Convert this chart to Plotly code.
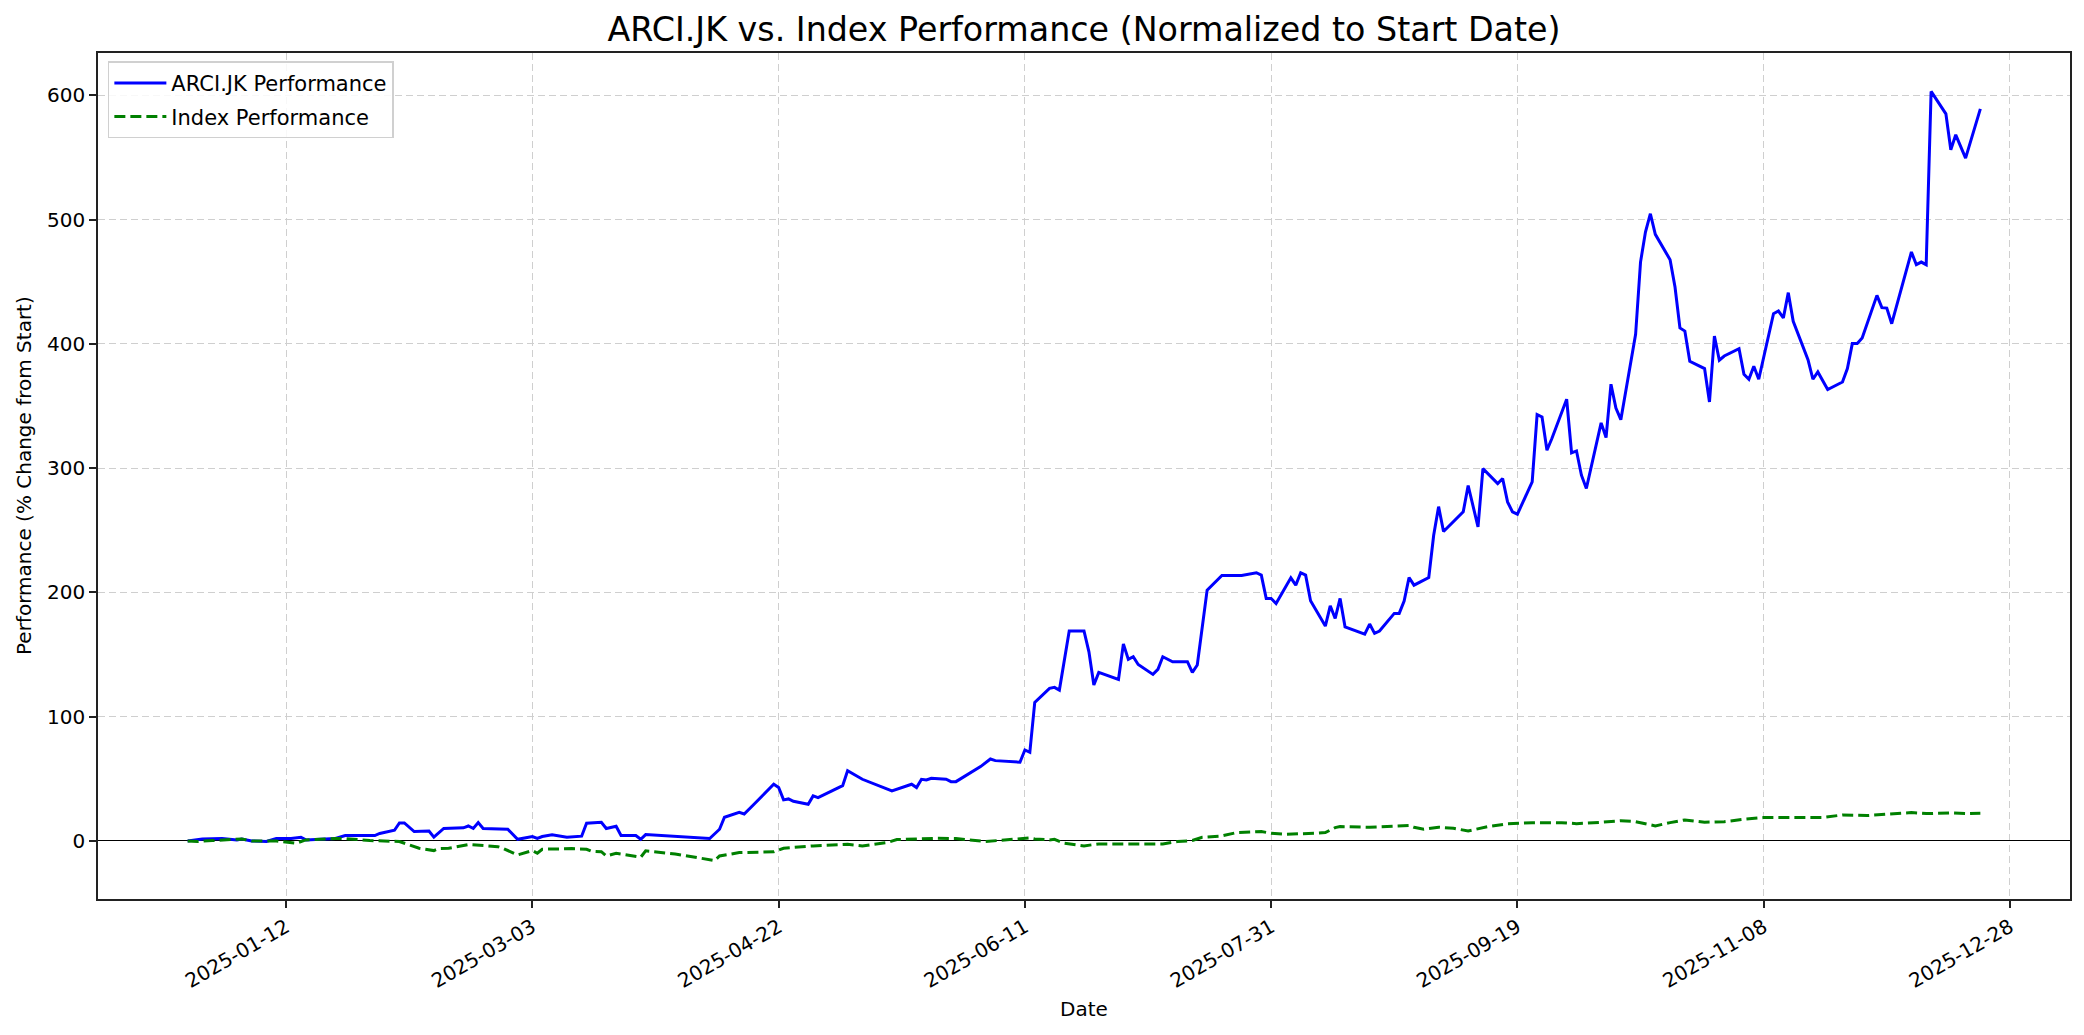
import pandas as pd
import plotly.graph_objects as go

# ---------------- data (day offsets relative to START) ----------------
START = "2025-01-12"

stock_days = [-20, -17, -13, -10, -9, -7, -4, -2, 1, 3, 4, 6, 10, 12, 18, 19, 22, 23, 24, 26,
              29, 30, 32, 36, 37, 38, 39, 40, 45, 47, 50, 51, 52, 54, 57, 60, 61, 64, 65, 67,
              68, 71, 72, 73, 86, 88, 89, 92, 93, 95, 99, 100, 101, 102, 103, 106, 107, 108, 113, 114,
              117, 123, 127, 128, 129, 130, 131, 134, 135, 136, 141, 143, 144, 149, 150, 151, 152, 155, 156, 157,
              159, 162, 163, 164, 165, 169, 170, 171, 172, 173, 176, 177, 178, 180, 183, 184, 185, 187, 190, 194,
              197, 198, 199, 200, 201, 204, 205, 206, 207, 208, 211, 212, 213, 214, 215, 219, 220, 221, 222, 225,
              226, 227, 228, 229, 232, 233, 234, 235, 239, 240, 242, 243, 246, 247, 248, 249, 250, 253, 254, 255,
              256, 257, 260, 261, 262, 263, 264, 267, 268, 269, 270, 271, 274, 275, 276, 277, 278, 281, 282, 283,
              284, 285, 288, 289, 290, 291, 292, 295, 296, 297, 298, 299, 302, 303, 304, 305, 306, 309, 310, 311,
              313, 316, 317, 318, 319, 320, 323, 324, 325, 326, 330, 331, 332, 333, 334, 337, 338, 339, 341, 344]
stock_perf = [0.0, 1.6, 2.0, 0.8, 1.6, 0.0, -0.5, 2.0, 2.0, 3.0, 0.8, 1.3, 1.9, 4.3, 4.3, 6.0, 8.6, 14.5, 14.5, 7.5,
              8.0, 3.0, 10.0, 10.5, 12.0, 10.0, 14.7, 10.0, 9.4, 1.3, 3.5, 2.0, 3.5, 5.0, 3.0, 3.8, 14.2, 15.0, 10.0, 11.8,
              4.3, 4.3, 1.3, 5.1, 1.9, 9.4, 19.0, 23.0, 21.7, 29.5, 45.6, 43.0, 33.0, 33.8, 31.9, 29.5, 36.2, 34.8, 44.5, 56.5,
              49.6, 40.2, 45.6, 42.9, 49.6, 49.0, 50.4, 49.6, 47.7, 47.7, 59.8, 65.9, 64.6, 63.3, 73.2, 71.3, 111.5, 122.8, 123.6, 121.4,
              168.9, 168.9, 152.2, 125.4, 135.6, 130.0, 158.4, 146.1, 148.2, 142.0, 134.0, 138.0, 148.2, 144.2, 144.2, 135.6, 141.5, 201.8, 213.6, 213.6,
              215.8, 213.9, 195.1, 195.1, 191.1, 211.7, 205.8, 215.8, 213.9, 193.2, 172.9, 189.2, 179.0, 195.1, 172.3, 166.4, 174.5, 167.0, 168.9, 183.1,
              183.1, 193.0, 212.0, 205.8, 212.0, 246.0, 269.0, 249.0, 264.8, 286.0, 252.7, 299.6, 287.6, 291.6, 272.8, 264.8, 262.9, 288.9, 343.1, 341.2,
              314.4, 323.8, 355.4, 312.2, 313.8, 294.3, 283.6, 336.4, 324.6, 367.5, 348.4, 339.0, 407.7, 465.8, 490.0, 504.7, 488.1, 467.7, 445.7, 412.8,
              410.3, 386.0, 380.1, 353.2, 406.3, 386.8, 390.2, 396.1, 375.5, 371.5, 381.9, 371.5, 424.3, 426.4, 420.8, 441.2, 418.1, 387.3, 371.5, 377.4,
              363.2, 369.3, 380.1, 400.2, 400.2, 404.7, 439.0, 429.1, 428.8, 416.2, 473.9, 463.7, 465.8, 463.7, 603.1, 585.1, 556.2, 568.2, 549.5, 589.1]

index_days = [-20, -18, -15, -12, -9, -7, -2, 2, 4, 10, 12, 17, 23, 27, 30, 31, 33, 37, 43, 44,
              47, 50, 51, 52, 58, 61, 62, 64, 65, 67, 72, 73, 79, 87, 88, 92, 99, 101, 107, 114,
              117, 122, 124, 132, 136, 142, 149, 151, 152, 155, 156, 158, 162, 165, 170, 178, 181, 184, 186, 190,
              193, 198, 200, 203, 209, 211, 213, 214, 220, 222, 228, 229, 231, 234, 237, 240, 244, 248, 253, 259,
              262, 267, 271, 274, 276, 278, 281, 284, 288, 292, 296, 300, 312, 316, 321, 326, 330, 333, 338, 341, 344]
index_perf = [0.0, -0.5, 0.3, 0.8, 1.6, 0.0, 0.0, -1.9, 0.8, 1.9, 1.9, 0.3, -0.5, -5.9, -7.8, -6.2, -5.9, -2.9, -4.6, -5.9,
              -11.3, -7.8, -9.9, -6.7, -6.2, -6.7, -8.3, -8.7, -12.1, -9.9, -13.1, -8.0, -10.5, -15.8, -12.1, -9.4, -8.8, -5.9, -4.0, -2.7,
              -4.0, -1.3, 1.1, 2.1, 1.9, -0.5, 2.1, 2.4, 1.6, 0.8, 1.3, -1.9, -4.0, -2.4, -2.4, -2.4, -0.5, 0.3, 2.9, 4.0,
              6.7, 7.5, 6.2, 5.4, 6.2, 6.7, 10.7, 11.5, 11.0, 11.5, 12.5, 11.0, 9.4, 11.0, 10.2, 8.0, 11.5, 13.7, 14.7, 14.7,
              13.9, 15.0, 16.3, 15.5, 13.7, 12.1, 14.7, 16.9, 15.0, 15.5, 17.4, 18.8, 18.8, 20.9, 20.4, 21.7, 22.8, 22.0, 22.5, 22.0, 22.2]

x_tick_labels = ["2025-01-12", "2025-03-03", "2025-04-22", "2025-06-11",
                 "2025-07-31", "2025-09-19", "2025-11-08", "2025-12-28"]
y_tick_values = [0, 100, 200, 300, 400, 500, 600]

# ---------------- build ----------------
base = pd.Timestamp(START)
stock_dates = [base + pd.Timedelta(days=d) for d in stock_days]
index_dates = [base + pd.Timedelta(days=d) for d in index_days]

FONT = "DejaVu Sans"

fig = go.Figure()
fig.add_trace(go.Scatter(x=stock_dates, y=stock_perf, mode="lines",
                         name="ARCI.JK Performance", legendgroup="a",
                         line=dict(color="#0000ff", width=3)))
fig.add_trace(go.Scatter(x=index_dates, y=index_perf, mode="lines",
                         name="Index Performance", legendgroup="b",
                         line=dict(color="#008000", width=3, dash="11px,5px")))

# ranges with 5% margins like matplotlib
all_dates = stock_dates + index_dates
dmin, dmax = min(all_dates), max(all_dates)
span = dmax - dmin
xr = [dmin - span * 0.05, dmax + span * 0.05]
all_vals = stock_perf + index_perf
vmin, vmax = min(all_vals), max(all_vals)
vs = vmax - vmin
yr = [vmin - vs * 0.05, vmax + vs * 0.05]

grid = dict(showgrid=True, gridcolor="#cfcfcf", griddash="7px,4px", gridwidth=1.4)
axis_common = dict(showline=True, linecolor="#222222", linewidth=1.6, mirror=True,
                   ticks="outside", ticklen=7, tickwidth=1.6, tickcolor="#222222",
                   tickfont=dict(family=FONT, size=20, color="black"), **grid)

fig.update_xaxes(range=xr, tickmode="array", zeroline=False,
                 tickvals=[pd.Timestamp(t) for t in x_tick_labels],
                 ticktext=x_tick_labels, tickangle=-30, **axis_common)
fig.update_yaxes(range=yr, tickmode="array", tickvals=y_tick_values,
                 zeroline=True, zerolinecolor="black", zerolinewidth=1.4,
                 ticktext=[str(v) for v in y_tick_values], **axis_common)

fig.update_layout(
    width=2084, height=1035,
    margin=dict(l=98, r=14, t=53, b=136),
    plot_bgcolor="white", paper_bgcolor="white",
    font=dict(family=FONT, size=20, color="black"),
    title=dict(text="ARCI.JK vs. Index Performance (Normalized to Start Date)",
               font=dict(family=FONT, size=33.3, color="black"),
               x=0.5, xref="paper", xanchor="center",
               y=1 - 29 / 1035, yref="container", yanchor="middle"),
    legend=dict(x=0.005, y=0.99, xanchor="left", yanchor="top",
                bgcolor="rgba(255,255,255,0.85)", bordercolor="#d0d0d0", borderwidth=1.5,
                font=dict(family=FONT, size=21, color="black"),
                tracegroupgap=3, itemwidth=52),
    showlegend=True,
    annotations=[
        dict(text="Date", xref="paper", yref="paper", x=0.5, y=-(1009 - 899) / 846,
             xanchor="center", yanchor="middle", showarrow=False,
             font=dict(family=FONT, size=20, color="black")),
        dict(text="Performance (% Change from Start)", xref="paper", yref="paper",
             x=(24 - 98) / 1972, y=0.5, xanchor="center", yanchor="middle",
             textangle=-90, showarrow=False,
             font=dict(family=FONT, size=20, color="black")),
    ],
)

fig.write_html("out.html", config={"displayModeBar": False},
               post_script="document.body.style.margin='0';document.body.style.padding='0';")
